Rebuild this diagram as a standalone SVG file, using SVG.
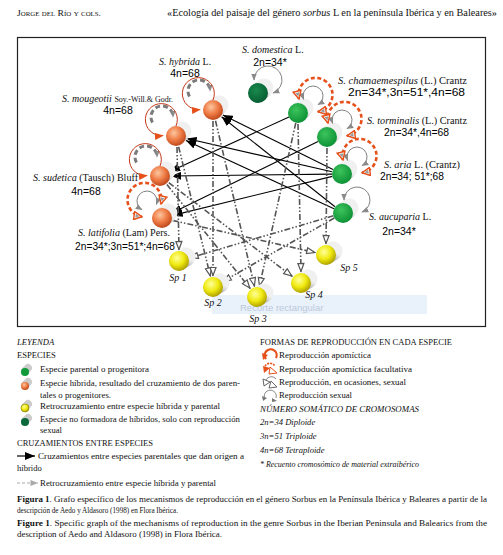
<svg xmlns="http://www.w3.org/2000/svg" width="503" height="555" viewBox="0 0 503 555">
<style>
.serif{font-family:"Liberation Serif","DejaVu Serif",serif;fill:#111}
.sans{font-family:"Liberation Sans",Arial,sans-serif;fill:#000}
.sp{font-family:"Liberation Serif",serif;font-size:10px;font-style:italic;fill:#111}
.nm{font-family:"Liberation Serif",serif;font-size:10px;fill:#111}
.it{font-style:italic}
.num{font-family:"Liberation Sans",Arial,sans-serif;font-size:10.5px;fill:#000}
.leg{font-family:"Liberation Serif",serif;font-size:8.6px;fill:#111}
.black{stroke:#000;stroke-width:1.1;fill:none}
.dd{stroke:#555;stroke-width:1.6;fill:none;stroke-dasharray:6 2 1.5 2 1.5 2}
.redThin{stroke:#c43a1c;stroke-width:1;fill:none}
.greyDash{stroke:#7a7a7a;stroke-width:3;fill:none;stroke-dasharray:5 3}
.redDash{stroke:#e5501b;stroke-width:2.6;fill:none;stroke-dasharray:4 2.5}
.greyThin{stroke:#808080;stroke-width:1;fill:none}
.shadow{stroke:url(#shGrad);stroke-width:19;stroke-linecap:round}
</style>
<defs>
<radialGradient id="gOr" cx="40%" cy="35%" r="65%"><stop offset="0" stop-color="#fcc6a0"/><stop offset="0.55" stop-color="#ef7b45"/><stop offset="1" stop-color="#c04a1c"/></radialGradient>
<radialGradient id="gGr" cx="40%" cy="35%" r="65%"><stop offset="0" stop-color="#3cc45c"/><stop offset="1" stop-color="#0e9336"/></radialGradient>
<radialGradient id="gDg" cx="40%" cy="35%" r="65%"><stop offset="0" stop-color="#1a8a4e"/><stop offset="1" stop-color="#075e32"/></radialGradient>
<radialGradient id="gYe" cx="40%" cy="35%" r="65%"><stop offset="0" stop-color="#ffff9a"/><stop offset="0.55" stop-color="#f0ea10"/><stop offset="1" stop-color="#b0a200"/></radialGradient>
<linearGradient id="shGrad" x1="0" y1="1" x2="1" y2="0"><stop offset="0" stop-color="#bdbdbd"/><stop offset="1" stop-color="#f0f0f0"/></linearGradient>
<marker id="ahBlack" viewBox="0 0 10 8" refX="10" refY="4" markerWidth="10" markerHeight="8" orient="auto" markerUnits="userSpaceOnUse"><path d="M0,0 L10,4 L0,8 z" fill="#000"/></marker>
<marker id="ahOpen" viewBox="0 0 10 8" refX="9.5" refY="4" markerWidth="10" markerHeight="8" orient="auto" markerUnits="userSpaceOnUse"><path d="M1,1 L9,4 L1,7 z" fill="#fff" stroke="#555" stroke-width="1.2"/></marker>
<marker id="ahRedFill" viewBox="0 0 10 8" refX="9" refY="4" markerWidth="9" markerHeight="8" orient="auto" markerUnits="userSpaceOnUse"><path d="M0,0 L10,4 L0,8 z" fill="#e5501b"/></marker>
<marker id="ahRedOpen" viewBox="0 0 10 10" refX="9" refY="5" markerWidth="10" markerHeight="10" orient="auto-start-reverse" markerUnits="userSpaceOnUse"><path d="M1,1 L9,5 L1,9 z" fill="#fff" stroke="#e5501b" stroke-width="1.4"/><path d="M2.5,3 L6.5,5 L2.5,7 z" fill="#999"/></marker>
<marker id="ahGrey" viewBox="0 0 10 8" refX="9" refY="4" markerWidth="7" markerHeight="6" orient="auto-start-reverse" markerUnits="userSpaceOnUse"><path d="M0,0 L10,4 L0,8 z" fill="#8a8a8a"/></marker>
<marker id="ahLegGrey" viewBox="0 0 10 8" refX="10" refY="4" markerWidth="10" markerHeight="6" orient="auto" markerUnits="userSpaceOnUse"><path d="M0,0 L10,4 L0,8 z" fill="#aaa"/></marker>
<g id="loopOrange">
<path class="greyDash" d="M-23.5,-13.5 A11,11 0 1 1 -3,-19" marker-end="url(#ahGrey)"/>
<path class="redThin" d="M0,-10 A16,16 0 1 0 -13,-0.5" marker-end="url(#ahRedFill)"/>
</g>
<g id="loopGreenRed">
<path class="greyThin" d="M5.6,-13.6 A10,10 0 1 1 20,-8.3" marker-start="url(#ahGrey)" marker-end="url(#ahGrey)"/>
<path class="redDash" d="M1,-14 A17,17 0 1 1 20,-1.3" marker-start="url(#ahRedOpen)" marker-end="url(#ahRedOpen)"/>
</g>
</defs>

<rect width="503" height="555" fill="#fff"/>
<!-- header -->
<text class="serif" x="17" y="16" font-size="8.5" style="font-variant:small-caps" textLength="84" lengthAdjust="spacingAndGlyphs">Jorge del Río y cols.</text>
<text class="serif" x="167" y="16" font-size="9.5" textLength="330" lengthAdjust="spacingAndGlyphs">«Ecología del paisaje del género <tspan class="it">sorbus</tspan> L en la península Ibérica y en Baleares»</text>

<rect x="17.5" y="37.5" width="468" height="289" fill="#fff" stroke="#222" stroke-width="1.2"/>

<g id="connectors">
<!-- parental crosses -->
<line class="black" x1="333" y1="169.6" x2="222.9" y2="114.9" marker-end="url(#ahBlack)"/>
<line class="black" x1="335" y1="206.8" x2="221.6" y2="116.8" marker-end="url(#ahBlack)"/>
<line class="black" x1="332" y1="171.8" x2="186.7" y2="138.5" marker-end="url(#ahBlack)"/>
<line class="black" x1="334" y1="208.8" x2="186" y2="140.6" marker-end="url(#ahBlack)"/>
<line class="black" x1="289" y1="117" x2="170" y2="171.4" marker-end="url(#ahBlack)"/>
<line class="black" x1="332" y1="174.1" x2="171" y2="176" marker-end="url(#ahBlack)"/>
<line class="black" x1="318" y1="141.4" x2="171.9" y2="213.1" marker-end="url(#ahBlack)"/>
<line class="black" x1="332.3" y1="176.4" x2="172.7" y2="215.4" marker-end="url(#ahBlack)"/>
<!-- backcrosses -->
<line class="dd" x1="177" y1="147" x2="179" y2="250" marker-end="url(#ahOpen)"/>
<line class="dd" x1="178.6" y1="146.7" x2="210.4" y2="276.3" marker-end="url(#ahOpen)"/>
<line class="dd" x1="213" y1="121" x2="213" y2="276" marker-end="url(#ahOpen)"/>
<line class="dd" x1="215.5" y1="120.7" x2="254.5" y2="286.3" marker-end="url(#ahOpen)"/>
<line class="dd" x1="166.9" y1="184.6" x2="250.1" y2="288.4" marker-end="url(#ahOpen)"/>
<line class="dd" x1="168.8" y1="182.7" x2="292.2" y2="276.3" marker-end="url(#ahOpen)"/>
<line class="dd" x1="172.7" y1="220.4" x2="315.3" y2="252.6" marker-end="url(#ahOpen)"/>
<line class="dd" x1="295.8" y1="122.8" x2="259.4" y2="286.3" marker-end="url(#ahOpen)"/>
<line class="dd" x1="298" y1="124" x2="301" y2="272" marker-end="url(#ahOpen)"/>
<line class="dd" x1="327" y1="148" x2="326" y2="244" marker-end="url(#ahOpen)"/>
<line class="dd" x1="333.4" y1="215.8" x2="189.6" y2="257.9" marker-end="url(#ahOpen)"/>
<line class="dd" x1="334.3" y1="218" x2="222.6" y2="281.6" marker-end="url(#ahOpen)"/>
</g>

<!-- screenshot overlay -->
<g id="overlay">
<rect x="212" y="295" width="215" height="19" fill="#dbe8f6" opacity="0.6"/>
<text class="sans" x="240" y="310.5" font-size="9.5" style="fill:#bccadb">Recorte rectangular</text>
</g>

<!-- hybrid nodes -->
<g id="n-hybrida">
<line class="shadow" x1="213" y1="110" x2="219" y2="105"/>
<circle cx="213" cy="110" r="10" fill="url(#gOr)"/>
<use href="#loopOrange" transform="translate(213,110)"/>
<text class="sp" x="159" y="65">S. hybrida <tspan class="nm" font-style="normal">L.</tspan></text>
<text class="num" x="185" y="77" text-anchor="middle">4n=68</text>
</g>
<g id="n-mougeotii">
<line class="shadow" x1="176" y1="136" x2="182" y2="131"/>
<circle cx="176" cy="136" r="10" fill="url(#gOr)"/>
<use href="#loopOrange" transform="translate(176,136)"/>
<text class="sp" x="62" y="102" textLength="111" lengthAdjust="spacingAndGlyphs">S. mougeotii <tspan font-style="normal" font-size="8">Soy.-Will.&amp; Godr.</tspan></text>
<text class="num" x="118" y="114" text-anchor="middle">4n=68</text>
</g>
<g id="n-sudetica">
<line class="shadow" x1="160" y1="176" x2="166" y2="171"/>
<circle cx="160" cy="176" r="10" fill="url(#gOr)"/>
<use href="#loopOrange" transform="translate(160,176)"/>
<text class="sp" x="33" y="181" textLength="105" lengthAdjust="spacingAndGlyphs">S. sudetica <tspan font-style="normal">(Tausch) Bluff</tspan></text>
<text class="num" x="86" y="195" text-anchor="middle">4n=68</text>
</g>
<g id="n-latifolia">
<line class="shadow" x1="162" y1="218" x2="168" y2="213"/>
<circle cx="162" cy="218" r="10" fill="url(#gOr)"/>
<g transform="translate(162,218) scale(-1,1)">
<path class="greyThin" d="M5.6,-13.6 A10,10 0 1 1 20,-8.3" marker-start="url(#ahGrey)" marker-end="url(#ahGrey)"/>
<path class="redDash" d="M1,-14 A17,17 0 1 1 20,-1.3" marker-start="url(#ahRedOpen)" marker-end="url(#ahRedOpen)"/>
</g>
<text class="sp" x="78" y="236" textLength="92" lengthAdjust="spacingAndGlyphs">S. latifolia <tspan font-style="normal">(Lam) Pers.</tspan></text>
<text class="num" x="75" y="250" textLength="100" lengthAdjust="spacingAndGlyphs">2n=34*;3n=51*;4n=68</text>
</g>

<!-- parental nodes -->
<g id="n-domestica">
<line class="shadow" x1="258" y1="93" x2="264" y2="88"/>
<circle cx="258" cy="93" r="10" fill="url(#gDg)"/>
<path class="greyThin" d="M254,80 A14,14 0 1 1 273,93" marker-start="url(#ahGrey)" marker-end="url(#ahGrey)"/>
<text class="sp" x="242" y="53">S. domestica <tspan font-style="normal">L.</tspan></text>
<text class="num" x="270" y="66" text-anchor="middle">2n=34*</text>
</g>
<g id="n-chamaemespilus">
<line class="shadow" x1="298" y1="113" x2="304" y2="108"/>
<circle cx="298" cy="113" r="10" fill="url(#gGr)"/>
<use href="#loopGreenRed" transform="translate(298,113)"/>
<text class="sp" x="338" y="84" textLength="129" lengthAdjust="spacingAndGlyphs">S. chamaemespilus <tspan font-style="normal">(L.) Crantz</tspan></text>
<text class="num" x="348" y="96" textLength="117" lengthAdjust="spacingAndGlyphs">2n=34*,3n=51*,4n=68</text>
</g>
<g id="n-torminalis">
<line class="shadow" x1="327" y1="137" x2="333" y2="132"/>
<circle cx="327" cy="137" r="10" fill="url(#gGr)"/>
<use href="#loopGreenRed" transform="translate(327,137)"/>
<text class="sp" x="367" y="124" textLength="100" lengthAdjust="spacingAndGlyphs">S. torminalis <tspan font-style="normal">(L.) Crantz</tspan></text>
<text class="num" x="384" y="136" textLength="65" lengthAdjust="spacingAndGlyphs">2n=34*,4n=68</text>
</g>
<g id="n-aria">
<line class="shadow" x1="342" y1="174" x2="348" y2="169"/>
<circle cx="342" cy="174" r="10" fill="url(#gGr)"/>
<use href="#loopGreenRed" transform="translate(342,174)"/>
<text class="sp" x="384" y="168" textLength="76" lengthAdjust="spacingAndGlyphs">S. aria <tspan font-style="normal">L. (Crantz)</tspan></text>
<text class="num" x="380" y="180" textLength="64" lengthAdjust="spacingAndGlyphs">2n=34; 51*;68</text>
</g>
<g id="n-aucuparia">
<line class="shadow" x1="343" y1="213" x2="349" y2="208"/>
<circle cx="343" cy="213" r="10" fill="url(#gGr)"/>
<path class="greyThin" d="M344,200 A13,13 0 1 1 362,212" marker-start="url(#ahGrey)" marker-end="url(#ahGrey)"/>
<text class="sp" x="369" y="220" font-size="9.5">S. aucuparia <tspan font-style="normal">L.</tspan></text>
<text class="num" x="399" y="235" text-anchor="middle">2n=34*</text>
</g>

<!-- backcross nodes -->
<g id="n-sp1">
<line class="shadow" x1="179" y1="261" x2="186" y2="257"/>
<circle cx="179" cy="261" r="10" fill="url(#gYe)"/>
<text class="sp" x="178" y="281" text-anchor="middle">Sp 1</text>
</g>
<g id="n-sp2">
<line class="shadow" x1="213" y1="287" x2="220" y2="283"/>
<circle cx="213" cy="287" r="10" fill="url(#gYe)"/>
<text class="sp" x="213" y="306" text-anchor="middle">Sp 2</text>
</g>
<g id="n-sp3">
<line class="shadow" x1="257" y1="297" x2="264" y2="293"/>
<circle cx="257" cy="297" r="10" fill="url(#gYe)"/>
<text class="sp" x="258" y="322" text-anchor="middle">Sp 3</text>
</g>
<g id="n-sp4">
<line class="shadow" x1="301" y1="283" x2="308" y2="279"/>
<circle cx="301" cy="283" r="10" fill="url(#gYe)"/>
<text class="sp" x="314" y="298" text-anchor="middle">Sp 4</text>
</g>
<g id="n-sp5">
<line class="shadow" x1="326" y1="255" x2="333" y2="251"/>
<circle cx="326" cy="255" r="10" fill="url(#gYe)"/>
<text class="sp" x="349" y="271" text-anchor="middle">Sp 5</text>
</g>

<!-- legend left -->
<g id="legend-left">
<text class="leg it" x="17" y="345">LEYENDA</text>
<text class="leg" x="17" y="358">ESPECIES</text>
<line x1="25" y1="371" x2="28" y2="368" stroke="#ccc" stroke-width="8" stroke-linecap="round"/>
<circle cx="25" cy="372" r="4" fill="#129a3a"/>
<text class="leg" x="40" y="372" textLength="109" lengthAdjust="spacingAndGlyphs">Especie parental o progenitora</text>
<line x1="25" y1="385" x2="28" y2="382" stroke="#ccc" stroke-width="8" stroke-linecap="round"/>
<circle cx="25" cy="386" r="4" fill="url(#gOr)"/>
<text class="leg" x="40" y="386" textLength="200" lengthAdjust="spacingAndGlyphs">Especie híbrida, resultado del cruzamiento de dos paren-</text>
<text class="leg" x="40" y="398" textLength="71" lengthAdjust="spacingAndGlyphs">tales o progenitores.</text>
<line x1="25" y1="407" x2="28" y2="404" stroke="#ccc" stroke-width="8" stroke-linecap="round"/>
<circle cx="25" cy="408" r="4" fill="url(#gYe)" stroke="#8a8000" stroke-width="0.6"/>
<text class="leg" x="40" y="409" textLength="180" lengthAdjust="spacingAndGlyphs">Retrocruzamiento entre especie híbrida y parental</text>
<line x1="25" y1="421" x2="28" y2="418" stroke="#ccc" stroke-width="8" stroke-linecap="round"/>
<circle cx="25" cy="422" r="4" fill="#0a6a3a"/>
<text class="leg" x="40" y="422" textLength="200" lengthAdjust="spacingAndGlyphs">Especie no formadora de híbridos, solo con reproducción</text>
<text class="leg" x="40" y="433">sexual</text>
<text class="leg" x="17" y="446" textLength="136" lengthAdjust="spacingAndGlyphs">CRUZAMIENTOS ENTRE ESPECIES</text>
<line x1="17" y1="456" x2="35" y2="456" stroke="#000" stroke-width="1.2" marker-end="url(#ahBlack)"/>
<text class="leg" x="38" y="459" textLength="206" lengthAdjust="spacingAndGlyphs">Cruzamientos entre especies parentales que dan origen a</text>
<text class="leg" x="17" y="471">híbrido</text>
<line x1="17" y1="483" x2="38" y2="483" stroke="#aaa" stroke-width="1.2" stroke-dasharray="3 2" marker-end="url(#ahLegGrey)"/>
<text class="leg" x="40" y="486" textLength="176" lengthAdjust="spacingAndGlyphs">Retrocruzamiento entre especie híbrida y parental</text>
</g>

<!-- legend right -->
<g id="legend-right">
<text class="leg" x="260" y="345" textLength="192" lengthAdjust="spacingAndGlyphs">FORMAS DE REPRODUCCIÓN EN CADA ESPECIE</text>
<path d="M266,359 A6,6 0 1 1 276,358" stroke="#e5501b" stroke-width="2.2" fill="none"/>
<path d="M262,353 L268,355 L263,360 z" fill="#e5501b"/>
<text class="leg" x="279" y="358" textLength="92" lengthAdjust="spacingAndGlyphs">Reproducción apomíctica</text>
<path d="M263,366 L270,368 L264,373 z" fill="#e5501b"/>
<path d="M270,367 L277,373 L269,374 z" fill="#fff" stroke="#e5501b" stroke-width="1"/>
<path d="M265,366 A6,6 0 0 1 275,366" stroke="#e5501b" stroke-width="1.6" fill="none" stroke-dasharray="2 1"/>
<text class="leg" x="279" y="372" textLength="133" lengthAdjust="spacingAndGlyphs">Reproducción apomíctica facultativa</text>
<path d="M263,379 L270,382 L264,386 z" fill="#fff" stroke="#555" stroke-width="0.9"/>
<path d="M271,381 L277,387 L269,388 z" fill="#fff" stroke="#555" stroke-width="0.9"/>
<path d="M266,380 A6,6 0 0 1 276,379" stroke="#666" stroke-width="0.8" fill="none"/>
<text class="leg" x="279" y="385" textLength="127" lengthAdjust="spacingAndGlyphs">Reproducción, en ocasiones, sexual</text>
<path d="M265,399 A6,6 0 1 1 276,398" stroke="#777" stroke-width="0.9" fill="none"/>
<path d="M262,396 L267,398 L263,401 z" fill="#777"/>
<path d="M272,398 L277,401 L272,402 z" fill="#777"/>
<text class="leg" x="279" y="398" textLength="73" lengthAdjust="spacingAndGlyphs">Reproducción sexual</text>
<text class="leg it" x="260" y="412" textLength="159" lengthAdjust="spacingAndGlyphs">NÚMERO SOMÁTICO DE CROMOSOMAS</text>
<text class="leg it" x="260" y="425" font-size="8">2n=34 Diploide</text>
<text class="leg it" x="260" y="439" font-size="8">3n=51 Triploide</text>
<text class="leg it" x="260" y="453" font-size="8">4n=68 Tetraploide</text>
<text class="leg it" x="260" y="467" font-size="8" textLength="159" lengthAdjust="spacingAndGlyphs">* Recuento cromosómico de material extraibérico</text>
</g>

<!-- caption -->
<g id="caption">
<text class="leg" x="17" y="502" textLength="470" lengthAdjust="spacingAndGlyphs"><tspan font-weight="bold">Figura 1</tspan>.  Grafo específico de los mecanismos de reproducción en el género Sorbus en la Península Ibérica y Baleares a partir de la</text>
<text class="leg" x="17" y="513" textLength="161" lengthAdjust="spacingAndGlyphs">descripción de Aedo y Aldasoro (1998) en Flora Ibérica.</text>
<text class="leg" x="17" y="526" textLength="470" lengthAdjust="spacingAndGlyphs"><tspan font-weight="bold">Figure 1</tspan>.  Specific graph of the mechanisms of reproduction in the genre Sorbus in the Iberian Peninsula and Balearics from the</text>
<text class="leg" x="17" y="537" textLength="205" lengthAdjust="spacingAndGlyphs">description of Aedo and Aldasoro (1998) in Flora Ibérica.</text>
</g>
</svg>
